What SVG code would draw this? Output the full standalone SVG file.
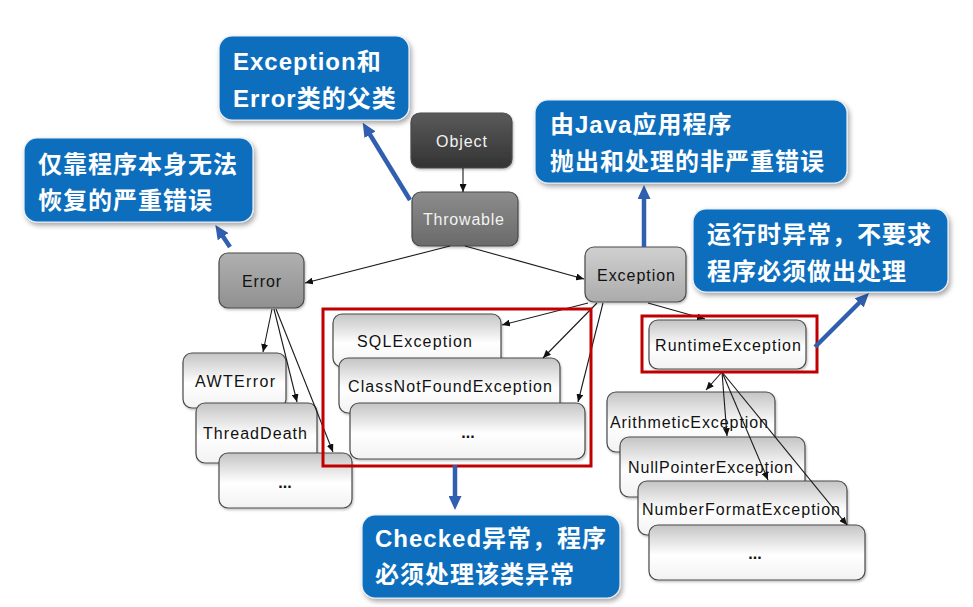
<svg xmlns="http://www.w3.org/2000/svg" width="973" height="607" viewBox="0 0 973 607">
<defs>
  <linearGradient id="gObj" x1="0" y1="0" x2="0" y2="1"><stop offset="0" stop-color="#5a5a5a"/><stop offset="1" stop-color="#333"/></linearGradient>
  <linearGradient id="gThr" x1="0" y1="0" x2="0" y2="1"><stop offset="0" stop-color="#8c8c8c"/><stop offset="1" stop-color="#6a6a6a"/></linearGradient>
  <linearGradient id="gErr" x1="0" y1="0" x2="0" y2="1"><stop offset="0" stop-color="#b0b0b0"/><stop offset="1" stop-color="#909090"/></linearGradient>
  <linearGradient id="gExc" x1="0" y1="0" x2="0" y2="1"><stop offset="0" stop-color="#d0d0d0"/><stop offset="1" stop-color="#ababab"/></linearGradient>
  <linearGradient id="gWht" x1="0" y1="0" x2="0" y2="1"><stop offset="0" stop-color="#c4c4c4"/><stop offset="0.55" stop-color="#ffffff"/><stop offset="1" stop-color="#f2f2f2"/></linearGradient>
  <filter id="sh" x="-10%" y="-10%" width="125%" height="130%"><feDropShadow dx="2" dy="3" stdDeviation="2.5" flood-color="#000" flood-opacity="0.35"/></filter>
  <filter id="nsh" x="-10%" y="-10%" width="125%" height="130%"><feDropShadow dx="1" dy="1.5" stdDeviation="1.2" flood-color="#000" flood-opacity="0.25"/></filter>
  <marker id="ah" markerUnits="userSpaceOnUse" markerWidth="8" markerHeight="7" refX="8" refY="3.5" orient="auto"><path d="M0,0 L8,3.5 L0,7 z" fill="#111"/></marker>
  <marker id="bh" markerUnits="userSpaceOnUse" markerWidth="15" markerHeight="13" refX="2" refY="6.5" orient="auto"><path d="M0,0 L14,6.5 L0,13 z" fill="#2f5fae"/></marker>
</defs>
<style>
  .node rect { stroke:#4a4a4a; stroke-width:1.2; filter:url(#nsh); }
  .nt { font-family:"Liberation Sans", Arial, sans-serif; font-size:16px; fill:#111; }
  .wt { fill:#f2f2f2; }
  .dots { font-family:"Liberation Sans", Arial, sans-serif; font-size:16px; fill:#111; text-anchor:middle; font-weight:bold; }
  .conn line { stroke:#1a1a1a; stroke-width:1.1; marker-end:url(#ah); }
  .blue line { stroke:#2f5fae; stroke-width:4.5; marker-end:url(#bh); }
  .call rect { fill:#0a6ebd; stroke:#e8eef8; stroke-width:1.2; filter:url(#sh); }
  .ct { font-family:"Liberation Sans", "Noto Sans CJK SC", sans-serif; font-size:24px; font-weight:bold; fill:#fff; letter-spacing:1px; }
  .red { fill:none; stroke:#c00000; stroke-width:3; }
</style>
<rect width="973" height="607" fill="#fff"/>

<g id="Object" class="node"><rect x="411" y="113" width="101" height="55" rx="9" fill="url(#gObj)"/><text class="nt wt" x="436" y="147" textLength="51" lengthAdjust="spacing">Object</text></g>
<g id="Throwable" class="node"><rect x="412" y="192" width="106" height="54" rx="9" fill="url(#gThr)"/><text class="nt wt" x="423" y="225" textLength="81" lengthAdjust="spacing">Throwable</text></g>
<g id="Error" class="node"><rect x="219" y="253" width="85" height="55" rx="9" fill="url(#gErr)"/><text class="nt" x="242" y="287" textLength="39" lengthAdjust="spacing">Error</text></g>
<g id="Exception" class="node"><rect x="585" y="247" width="101" height="55" rx="9" fill="url(#gExc)"/><text class="nt" x="597" y="281" textLength="78" lengthAdjust="spacing">Exception</text></g>

<g id="AWTError" class="node"><rect x="183" y="353" width="103" height="55" rx="9" fill="url(#gWht)"/><text class="nt" x="195" y="387" textLength="80" lengthAdjust="spacing">AWTError</text></g>
<g id="ThreadDeath" class="node"><rect x="196" y="403" width="121" height="60" rx="9" fill="url(#gWht)"/><text class="nt" x="203" y="439" textLength="104" lengthAdjust="spacing">ThreadDeath</text></g>
<g id="ErrorMore" class="node"><rect x="219" y="453" width="133" height="55" rx="9" fill="url(#gWht)"/><text class="dots" x="285" y="488">...</text></g>

<g id="SQLException" class="node"><rect x="333" y="314" width="168" height="53" rx="9" fill="url(#gWht)"/><text class="nt" x="357" y="347" textLength="115" lengthAdjust="spacing">SQLException</text></g>
<g id="ClassNotFoundException" class="node"><rect x="339" y="358" width="221" height="55" rx="9" fill="url(#gWht)"/><text class="nt" x="348" y="392" textLength="204" lengthAdjust="spacing">ClassNotFoundException</text></g>
<g id="CheckedMore" class="node"><rect x="350" y="403" width="235" height="56" rx="9" fill="url(#gWht)"/><text class="dots" x="468" y="438">...</text></g>

<g id="RuntimeException" class="node"><rect x="649" y="320" width="157" height="49" rx="9" fill="url(#gWht)"/><text class="nt" x="655" y="351" textLength="146" lengthAdjust="spacing">RuntimeException</text></g>
<g id="ArithmeticException" class="node"><rect x="607" y="392" width="168" height="60" rx="9" fill="url(#gWht)"/><text class="nt" x="610" y="428" textLength="158" lengthAdjust="spacing">ArithmeticException</text></g>
<g id="NullPointerException" class="node"><rect x="620" y="437" width="185" height="60" rx="9" fill="url(#gWht)"/><text class="nt" x="628" y="473" textLength="165" lengthAdjust="spacing">NullPointerException</text></g>
<g id="NumberFormatException" class="node"><rect x="638" y="481" width="209" height="54" rx="9" fill="url(#gWht)"/><text class="nt" x="642" y="515" textLength="198" lengthAdjust="spacing">NumberFormatException</text></g>
<g id="RuntimeMore" class="node"><rect x="649" y="525" width="216" height="55" rx="9" fill="url(#gWht)"/><text class="dots" x="755" y="559">...</text></g>

<g id="connectors" class="conn">
  <line x1="463" y1="168" x2="463" y2="192"/>
  <line x1="450" y1="246" x2="305" y2="283"/>
  <line x1="465" y1="246" x2="584" y2="279"/>
  <line x1="272" y1="309" x2="263" y2="352"/>
  <line x1="274" y1="309" x2="297" y2="402"/>
  <line x1="276" y1="309" x2="333" y2="452"/>
  <line x1="588" y1="303" x2="502" y2="325"/>
  <line x1="597" y1="303" x2="543" y2="358"/>
  <line x1="603" y1="303" x2="578" y2="402"/>
  <line x1="648" y1="303" x2="705" y2="319"/>
  <line x1="722" y1="372" x2="706" y2="390"/>
  <line x1="722" y1="372" x2="727" y2="436"/>
  <line x1="722" y1="372" x2="768" y2="480"/>
  <line x1="722" y1="372" x2="847" y2="525"/>
</g>

<g id="highlights">
  <rect class="red" x="323" y="309" width="268" height="157"/>
  <rect class="red" x="642" y="316" width="175" height="56"/>
</g>

<g id="callout-arrows" class="blue">
  <line x1="410" y1="200" x2="369" y2="133"/>
  <line x1="230" y1="247" x2="222" y2="235"/>
  <line x1="644" y1="247" x2="644" y2="197"/>
  <line x1="815" y1="347" x2="860.5" y2="301.5"/>
  <line x1="455" y1="465" x2="455" y2="498"/>
</g>

<g id="callout-parent" class="call"><rect x="219" y="36" width="190" height="84" rx="13"/><text class="ct" x="233" y="70">Exception和</text><text class="ct" x="233" y="107">Error类的父类</text></g>
<g id="callout-error" class="call"><rect x="24" y="138" width="229" height="84" rx="13"/><text class="ct" x="38" y="173">仅靠程序本身无法</text><text class="ct" x="38" y="209">恢复的严重错误</text></g>
<g id="callout-exception" class="call"><rect x="535" y="100" width="312" height="83" rx="13"/><text class="ct" x="550" y="133">由Java应用程序</text><text class="ct" x="550" y="170">抛出和处理的非严重错误</text></g>
<g id="callout-runtime" class="call"><rect x="693" y="209" width="255" height="83" rx="13"/><text class="ct" x="707" y="243">运行时异常，不要求</text><text class="ct" x="707" y="280">程序必须做出处理</text></g>
<g id="callout-checked" class="call"><rect x="362" y="515" width="258" height="83" rx="13"/><text class="ct" x="375" y="547">Checked异常，程序</text><text class="ct" x="375" y="583">必须处理该类异常</text></g>
</svg>
